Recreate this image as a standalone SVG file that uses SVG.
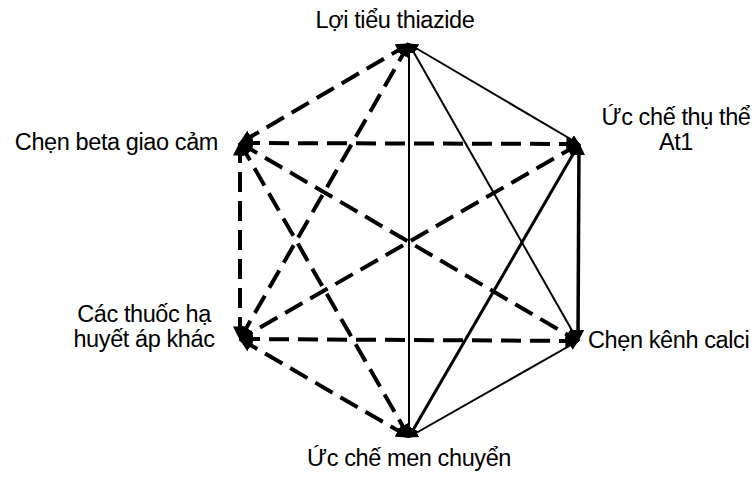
<svg xmlns="http://www.w3.org/2000/svg" width="756" height="484" viewBox="0 0 756 484">
<defs>
<marker id="ah" viewBox="0 0 10 10" refX="9" refY="5" markerWidth="3.5" markerHeight="3.5" orient="auto-start-reverse" markerUnits="strokeWidth">
<path d="M0,0 L10,5 L0,10 z" fill="#000"/>
</marker>
<marker id="ah2" viewBox="0 0 10 10" refX="9" refY="5" markerWidth="5" markerHeight="5" orient="auto-start-reverse" markerUnits="strokeWidth">
<path d="M0,0 L10,5 L0,10 z" fill="#000"/>
</marker>
<style>
.lbl{font-family:"Liberation Sans",Arial,sans-serif;font-size:23.5px;fill:#000;letter-spacing:-0.4px}
.d{stroke:#000;stroke-width:4;stroke-dasharray:20 9;fill:none;marker-start:url(#ah);marker-end:url(#ah)}
.s{stroke:#000;stroke-width:2;fill:none;marker-start:url(#ah2);marker-end:url(#ah2)}
.t{stroke:#000;stroke-width:3.5;fill:none;marker-start:url(#ah);marker-end:url(#ah)}
</style>
</defs>
<rect width="756" height="484" fill="#fff"/>
<g id="connectors">
<line class="s" x1="409" y1="44" x2="409" y2="437"/>
<line class="s" x1="409" y1="44" x2="579" y2="144"/>
<line class="s" x1="409" y1="44" x2="578" y2="341"/>
<line class="s" x1="578" y1="341" x2="409" y2="437"/>
<line class="t" x1="579" y1="144" x2="578" y2="341"/>
<line class="t" x1="579" y1="144" x2="409" y2="437" style="stroke-width:3"/>
<line class="d" x1="409" y1="44" x2="240" y2="143"/>
<line class="d" x1="409" y1="44" x2="240" y2="339"/>
<line class="d" x1="240" y1="143" x2="579" y2="144"/>
<line class="d" x1="240" y1="143" x2="578" y2="341"/>
<line class="d" x1="240" y1="143" x2="240" y2="339"/>
<line class="d" x1="240" y1="143" x2="409" y2="437"/>
<line class="d" x1="579" y1="144" x2="240" y2="339"/>
<line class="d" x1="240" y1="339" x2="578" y2="341"/>
<line class="d" x1="240" y1="339" x2="409" y2="437"/>
</g>
<g id="n-thiazide"><text class="lbl" x="395" y="28" text-anchor="middle">Lợi tiểu thiazide</text></g>
<g id="n-beta"><text class="lbl" x="218" y="150" text-anchor="end">Chẹn beta giao cảm</text></g>
<g id="n-at1"><text class="lbl" x="676" y="125" text-anchor="middle">Ức chế thụ thể</text><text class="lbl" x="676" y="150" text-anchor="middle">At1</text></g>
<g id="n-khac"><text class="lbl" x="144" y="322" text-anchor="middle">Các thuốc hạ</text><text class="lbl" x="144" y="347" text-anchor="middle">huyết áp khác</text></g>
<g id="n-calci"><text class="lbl" x="588" y="348">Chẹn kênh calci</text></g>
<g id="n-men"><text class="lbl" x="409" y="466" text-anchor="middle">Ức chế men chuyển</text></g>
</svg>
